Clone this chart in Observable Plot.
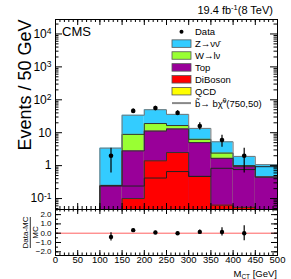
<!DOCTYPE html>
<html><head><meta charset="utf-8">
<script src="https://cdn.jsdelivr.net/npm/d3@7"></script>
<script src="https://cdn.jsdelivr.net/npm/@observablehq/plot@0.6"></script>
<style>
body{margin:0;background:#fff;}
#wrap{position:relative;width:291px;height:279px;overflow:hidden;font-family:"Liberation Sans",Arial,sans-serif;}
#wrap svg{position:absolute;left:0;}
</style></head><body><div id="wrap"></div>
<script>
// ---- data ----
const binLo   = [100,150,200,250,300,350,400,450];
const binHi   = [150,200,250,300,350,400,450,500];
const zNuNu   = [3.15, 25.1, 31, 19.5, 7.2, 2.9, 0.9, 0.62];
const wLNu    = [0, 6.1, 7.8, 3.5, 1.3, 0.74, 0.07, 0];
const topQ    = [0.25, 2.7, 9.8, 10.5, 4.53, 1.6, 0.88, 0.45];
const diboson = [0, 0.1, 1.4, 2.5, 0.47, 0.063, 0.054, 0];
const qcd     = [0, 0, 0, 0, 0, 0, 0, 0];
const signal  = [0.24, 0.24, 0.42, 0.66, 0.47, 0.83, 0.76, 0.93];
const dataX   = [125,175,225,275,325,375,425];
const dataN   = [2,46,56,40,16,6,2];
const dataErr = [1.4,6.8,7.5,6.3,4,2.4,1.4];
const ratio    = [-0.4,0.33,0.08,0.0,0.14,0.14,0.0];
const ratioErr = [0.45,0.12,0.12,0.1,0.2,0.45,0.8];
const xTicks = [0,50,100,150,200,250,300,350,400,450,500];
const yTicks = [0.1,1,10,100,1000,10000];
const yTickLabels = ["10^-1","1","10","10^2","10^3","10^4"];
const ratioTicks = [-2,-1,0,1,2];
const legendNames = ["Data","Z→νν\u0304","W→lν","Top","DiBoson","QCD","signal"];
const procNames  = ["QCD","DiBoson","Top","W","Z"];
const procColors = {QCD:"#ffff00", DiBoson:"#ff0000", Top:"#990099", W:"#99ff33", Z:"#33ccff"};
const procVals   = {QCD:qcd, DiBoson:diboson, Top:topQ, W:wLNu, Z:zNuNu};

// ---- layout ----
const W = 291, mL = 55, mR = 14;
const topH = 210, topMT = 19, topMB = 1;
const rH = 70, rMT = 0, rMB = 24, rTop = 209;
const fW = W - mL - mR, fH = topH - topMT - topMB, rFH = rH - rMT - rMB;
const yMin = 0.0465, yMax = 27500;
const font = "Liberation Sans, Arial, sans-serif";

// cumulative stack
let cum = binLo.map(() => 0);
const rects = [], lines = [];
procNames.forEach(p => {
  cum = cum.map((c, i) => c + procVals[p][i]);
  const c = cum.slice();
  binLo.forEach((lo, i) => { if (c[i] > 0) rects.push({p, x1: lo, x2: binHi[i], y2: c[i]}); });
  lines.push({x: binLo[0], y: 1e-4, p});
  binLo.forEach((lo, i) => {
    const v = c[i] > 0 ? c[i] : 1e-4;
    lines.push({x: lo, y: v, p}, {x: binHi[i], y: v, p});
  });
  lines.push({x: binHi[binHi.length-1], y: 1e-4, p});
});
const order = [...procNames].reverse();
rects.sort((a, b) => order.indexOf(a.p) - order.indexOf(b.p));
const sigLine = [{x: binLo[0], y: 1e-4}];
binLo.forEach((lo, i) => sigLine.push({x: lo, y: signal[i]}, {x: binHi[i], y: signal[i]}));
sigLine.push({x: 500, y: 1e-4});

const dataRows = dataX.map((x, i) => ({x, n: dataN[i], lo: Math.max(dataN[i]-dataErr[i], 1e-3), hi: dataN[i]+dataErr[i]}));
const ratioRows = dataX.map((x, i) => ({x, r: ratio[i], lo: ratio[i]-ratioErr[i], hi: ratio[i]+ratioErr[i]}));

const xMinor = d3.range(0, 501, 10);
const yMinor = [];
[0.01,0.1,1,10,100,1000,10000].forEach(d => { for (let k = 2; k <= 9; k++) { const v = d*k; if (v > yMin && v < yMax) yMinor.push(v); } });
const rMinor = d3.range(-2, 2.51, 0.5);

const yLabMap = new Map(yTicks.map((t, i) => [t, yTickLabels[i]]));

const topPlot = Plot.plot({
  width: W, height: topH, marginTop: topMT, marginBottom: topMB, marginLeft: mL, marginRight: mR,
  style: {background: "none", fontFamily: font},
  x: {domain: [0, 500], axis: null},
  y: {type: "log", domain: [yMin, yMax], axis: null},
  marks: [
    Plot.rect(rects, {x1: "x1", x2: "x2", y1: yMin, y2: "y2", fill: d => procColors[d.p]}),
    Plot.line(lines, {x: "x", y: "y", z: "p", stroke: d => d.p === "Z" ? "#777" : "#333", strokeWidth: 1, clip: true}),
    Plot.line(sigLine, {x: "x", y: "y", stroke: "#222", strokeWidth: 1, clip: true}),
    Plot.ruleX(dataRows, {x: "x", y1: "lo", y2: "hi", stroke: "#000", strokeWidth: 1.2, clip: true}),
    Plot.dot(dataRows, {x: "x", y: "n", r: 2.3, fill: "#000"}),
    Plot.tickX(xTicks, {x: d => d, insetBottom: fH - 6, stroke: "#000"}),
    Plot.tickX(xMinor, {x: d => d, insetBottom: fH - 3, stroke: "#000"}),
    Plot.tickX(xTicks, {x: d => d, insetTop: fH - 6, stroke: "#000"}),
    Plot.tickX(xMinor, {x: d => d, insetTop: fH - 3, stroke: "#000"}),
    Plot.tickY(yTicks, {y: d => d, insetRight: fW - 7, stroke: "#000"}),
    Plot.tickY(yMinor, {y: d => d, insetRight: fW - 3.5, stroke: "#000"}),
    Plot.tickY(yTicks, {y: d => d, insetLeft: fW - 7, stroke: "#000"}),
    Plot.tickY(yMinor, {y: d => d, insetLeft: fW - 3.5, stroke: "#000"}),
    Plot.axisY({ticks: yTicks, tickSize: 0, tickPadding: 4, fontSize: 12, label: null, tickFormat: d => yLabMap.get(d)}),
    Plot.frame({stroke: "#000"})
  ]
});
topPlot.style.top = "0px";

const ratioPlot = Plot.plot({
  width: W, height: rH, marginTop: rMT, marginBottom: rMB, marginLeft: mL, marginRight: mR,
  style: {background: "none", fontFamily: font},
  x: {domain: [0, 500], axis: null},
  y: {domain: [-2.4, 2.55], axis: null},
  marks: [
    Plot.ruleY([0], {stroke: "#ff6060", strokeWidth: 1}),
    Plot.ruleX(ratioRows, {x: "x", y1: "lo", y2: "hi", stroke: "#000", strokeWidth: 1.2}),
    Plot.dot(ratioRows, {x: "x", y: "r", r: 2.2, fill: "#000"}),
    Plot.tickX(xTicks, {x: d => d, insetBottom: rFH - 5, stroke: "#000"}),
    Plot.tickX(xMinor, {x: d => d, insetBottom: rFH - 2.5, stroke: "#000"}),
    Plot.tickX(xTicks, {x: d => d, insetTop: rFH - 5, stroke: "#000"}),
    Plot.tickX(xMinor, {x: d => d, insetTop: rFH - 2.5, stroke: "#000"}),
    Plot.tickY(ratioTicks, {y: d => d, insetRight: fW - 6, stroke: "#000"}),
    Plot.tickY(rMinor, {y: d => d, insetRight: fW - 3, stroke: "#000"}),
    Plot.tickY(ratioTicks, {y: d => d, insetLeft: fW - 6, stroke: "#000"}),
    Plot.tickY(rMinor, {y: d => d, insetLeft: fW - 3, stroke: "#000"}),
    Plot.axisX({ticks: xTicks, tickSize: 0, tickPadding: 1, fontSize: 9.5, label: null}),
    Plot.axisY({ticks: ratioTicks, tickSize: 0, tickPadding: 4, fontSize: 8, label: null}),
    Plot.frame({stroke: "#000"})
  ]
});
ratioPlot.style.top = rTop + "px";

const wrap = document.getElementById("wrap");
wrap.appendChild(topPlot);
wrap.appendChild(ratioPlot);

// superscripts on log tick labels
d3.select(topPlot).selectAll('g[aria-label="y-axis tick label"] text').each(function() {
  const t = this.textContent;
  if (t.includes("^")) {
    const [b, e] = t.split("^");
    this.textContent = b;
    d3.select(this).append("tspan").attr("dy", "-0.45em").attr("font-size", "8.5px").text(e);
  }
});

// ---- overlay texts & legend ----
const ov = d3.select(wrap).append("svg").attr("width", W).attr("height", 279)
  .style("top", "0px").attr("font-family", font);

const lumi = ov.append("text").attr("x", 273).attr("y", 14).attr("text-anchor", "end").attr("font-size", 11);
lumi.append("tspan").text("19.4 fb");
lumi.append("tspan").attr("dy", -4).attr("font-size", 7.5).text("-1");
lumi.append("tspan").attr("dy", 4).text("(8 TeV)");

ov.append("text").attr("x", 62).attr("y", 35.5).attr("font-size", 13).text("CMS");

ov.append("text").attr("transform", "translate(30.5,85) rotate(-90)").attr("text-anchor", "middle")
  .attr("font-size", 18).text("Events / 50 GeV");

const rl = ov.append("g").attr("transform", "translate(0,232.5) rotate(-90)");
rl.append("text").attr("x", 0).attr("y", 28.3).attr("text-anchor", "middle").attr("font-size", 8).text("Data-MC");
rl.append("line").attr("x1", -15.5).attr("x2", 15.5).attr("y1", 30.3).attr("y2", 30.3).attr("stroke", "#000").attr("stroke-width", 0.8);
rl.append("text").attr("x", 0).attr("y", 38.3).attr("text-anchor", "middle").attr("font-size", 8).text("MC");

const xl = ov.append("text").attr("x", 277).attr("y", 276.5).attr("text-anchor", "end").attr("font-size", 9.5);
xl.append("tspan").text("M");
xl.append("tspan").attr("dy", 2).attr("font-size", 6.5).text("CT");
xl.append("tspan").attr("dy", -2).text(" [GeV]");

// legend
const legKeys = [null, "Z", "W", "Top", "DiBoson", "QCD", "sig"];
const legY0 = 31.7, legDy = 11.9, bx = 172, bw = 19, bh = 7.5, tx = 195;
legendNames.forEach((name, i) => {
  const cy = legY0 + i * legDy;
  const k = legKeys[i];
  if (k === null) {
    ov.append("circle").attr("cx", bx + bw/2).attr("cy", cy).attr("r", 2).attr("fill", "#000");
  } else if (k === "sig") {
    ov.append("line").attr("x1", bx).attr("x2", bx + bw).attr("y1", cy).attr("y2", cy).attr("stroke", "#888").attr("stroke-width", 2);
  } else {
    ov.append("rect").attr("x", bx).attr("y", cy - bh/2).attr("width", bw).attr("height", bh)
      .attr("fill", procColors[k]).attr("stroke", "#555").attr("stroke-width", 0.8);
  }
  const t = ov.append("text").attr("x", tx).attr("y", cy + 3.4).attr("font-size", 9.5);
  if (k === "sig") {
    t.append("tspan").text("b\u0303→ bχ\u0303");
    t.append("tspan").attr("dy", -3.5).attr("font-size", 6.5).text("0");
    t.append("tspan").attr("dy", 3.5).text("(750,50)");
  } else {
    t.text(name);
  }
});
</script>
</body></html>
